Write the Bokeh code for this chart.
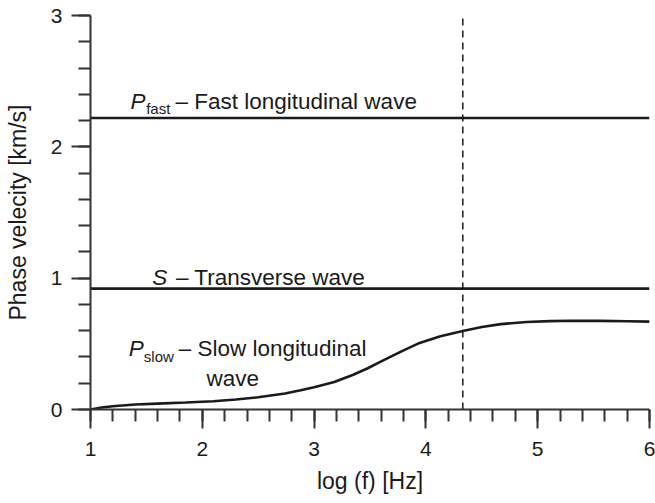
from bokeh.plotting import figure
from bokeh.models import FixedTicker, Label, Range1d
from bokeh.embed import file_html
from bokeh.resources import INLINE

# ---- data ----
x_ticks = [1, 2, 3, 4, 5, 6]
y_ticks = [0, 1, 2, 3]
x_minor = [1 + 0.2 * i for i in range(26)]
y_minor = [0.2 * i for i in range(16)]

v_fast = 2.22   # km/s, fast longitudinal wave
v_s = 0.92      # km/s, transverse wave
f_mark = 4.33   # log(f) of dashed line

slow_logf = [1.0, 1.1, 1.2, 1.4, 1.6, 1.85, 2.1, 2.3, 2.5, 2.74, 2.88, 3.0, 3.18,
             3.35, 3.48, 3.6, 3.8, 3.93, 4.13, 4.33, 4.5, 4.67, 4.9, 5.11, 5.3,
             5.56, 5.8, 6.0]
slow_v = [0.0, 0.015, 0.025, 0.038, 0.045, 0.053, 0.063, 0.076, 0.093, 0.122, 0.147,
          0.17, 0.21, 0.265, 0.314, 0.366, 0.45, 0.502, 0.558, 0.598, 0.628, 0.65,
          0.666, 0.673, 0.676, 0.675, 0.672, 0.669]

FONT = "Liberation Sans"
INK = "#1a1a1a"
AX = "#333333"

p = figure(width=655, height=503, x_range=Range1d(1, 6), y_range=Range1d(0, 3),
           output_backend="svg", toolbar_location=None,
           min_border_left=90, min_border_right=6, min_border_top=15, min_border_bottom=94)
p.outline_line_color = None
p.xgrid.visible = False
p.ygrid.visible = False
p.background_fill_color = "white"
p.border_fill_color = "white"

p.xaxis.ticker = FixedTicker(ticks=x_ticks, minor_ticks=x_minor)
p.yaxis.ticker = FixedTicker(ticks=y_ticks, minor_ticks=y_minor)

for ax in (p.xaxis, p.yaxis):
    ax.axis_line_width = 2
    ax.axis_line_color = AX
    ax.major_tick_line_width = 2
    ax.minor_tick_line_width = 2
    ax.major_tick_line_color = AX
    ax.minor_tick_line_color = AX
    ax.major_tick_in = 0
    ax.minor_tick_in = 0
    ax.major_tick_out = 19
    ax.minor_tick_out = 12
    ax.major_label_text_font = FONT
    ax.major_label_text_font_size = "21px"
    ax.major_label_text_color = INK
    ax.axis_label_text_font = FONT
    ax.axis_label_text_font_size = "23px"
    ax.axis_label_text_font_style = "normal"
    ax.axis_label_text_color = INK

p.xaxis.axis_label = "log (f) [Hz]"
p.yaxis.axis_label = "Phase velecity [km/s]"
p.xaxis.major_label_standoff = 13
p.yaxis.major_label_standoff = 9
p.xaxis.axis_label_standoff = 9
p.yaxis.axis_label_standoff = 17

# data lines
p.line([1, 6], [v_fast, v_fast], line_width=2.6, line_color=INK)
p.line([1, 6], [v_s, v_s], line_width=2.6, line_color=INK)
p.line(slow_logf, slow_v, line_width=2.6, line_color=INK)
p.line([f_mark, f_mark], [0, 3], line_width=1.5, line_color=INK, line_dash="7 5")


def lab(x, y, text, xo=0, yo=0, size="22.5px", style="normal"):
    p.add_layout(Label(x=x, y=y, text=text, x_offset=xo, y_offset=yo,
                       text_font=FONT, text_font_size=size, text_font_style=style,
                       text_color=INK, text_baseline="alphabetic", text_align="left"))

# P_fast
lab(1, v_fast, "P", xo=40, yo=16.6, style="italic")
lab(1, v_fast, "fast", xo=55.7, yo=9.0, size="15px")
lab(1, v_fast, "\u2013 Fast longitudinal wave", xo=85, yo=16.6)
# S
lab(1, v_s, "S", xo=61.7, yo=11.6, style="italic")
lab(1, v_s, "\u2013 Transverse wave", xo=85.5, yo=11.6)
# P_slow
lab(1, 0, "P", xo=38.3, yo=61, style="italic")
lab(1, 0, "slow", xo=53.3, yo=53.4, size="15px")
lab(1, 0, "\u2013 Slow longitudinal", xo=88.3, yo=61)
lab(1, 0, "wave", xo=116, yo=31)

open("out.html", "w").write(file_html(p, INLINE))
